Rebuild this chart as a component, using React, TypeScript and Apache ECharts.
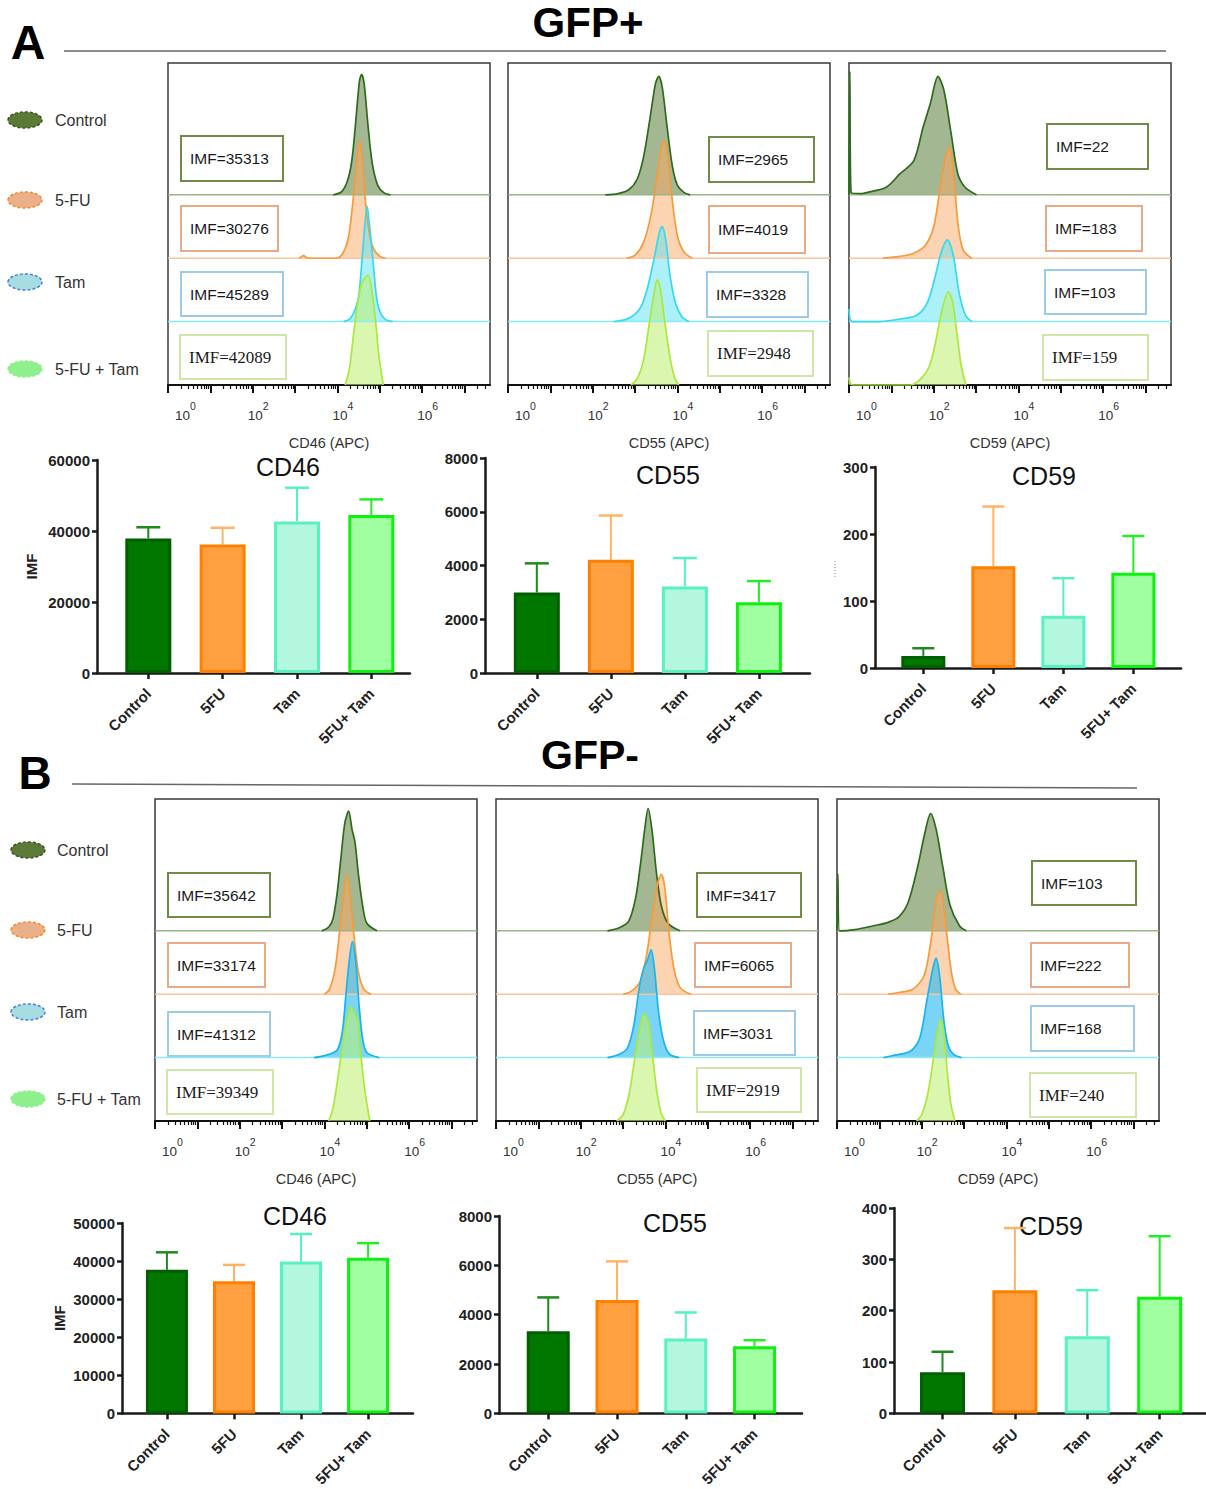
import React, { useEffect, useRef } from "react";
import * as echarts from "echarts";

const FONT = "'Liberation Sans', Arial, sans-serif";
const SERIF = "'Liberation Serif', 'Times New Roman', serif";

// ---------------- data ----------------
const GROUP_NAMES = ["Control", "5-FU", "Tam", "5-FU + Tam"];
const BAR_CATEGORIES = ["Control", "5FU", "Tam", "5FU+ Tam"];
const DECADE_TICKS = [0, 1, 2, 3, 4, 5, 6, 7];
const DECADE_LABELS = [0, 2, 4, 6];
const CHANNEL_NAMES = ["CD46 (APC)", "CD55 (APC)", "CD59 (APC)"];
const MARKER_TITLES = ["CD46", "CD55", "CD59"];

// Histogram curves: [log10 fluorescence, relative count (row units)]
// GFP+ CD46
const A_CD46_CTRL = [[3.9,0],[4.1,0.05],[4.25,0.25],[4.35,0.6],[4.45,1.3],[4.52,1.8],[4.57,1.9],[4.63,1.75],[4.72,1.1],[4.82,0.5],[4.95,0.15],[5.1,0.03],[5.25,0]];
const A_CD46_5FU = [[3.1,0],[3.2,0.04],[3.3,0],[3.95,0],[4.1,0.05],[4.25,0.3],[4.35,0.8],[4.45,1.5],[4.51,1.84],[4.58,1.6],[4.66,0.9],[4.75,0.4],[4.85,0.15],[5.0,0.03],[5.13,0]];
const A_CD46_TAM = [[4.15,0],[4.3,0.05],[4.42,0.2],[4.5,0.4],[4.57,0.9],[4.63,1.4],[4.7,1.82],[4.76,1.5],[4.85,0.88],[4.92,0.4],[5.0,0.16],[5.12,0.04],[5.3,0]];
const A_CD46_COMBO = [[4.18,0],[4.28,0.25],[4.38,0.8],[4.48,1.3],[4.58,1.62],[4.72,1.73],[4.82,1.45],[4.9,1.0],[4.98,0.45],[5.08,0]];
// GFP+ CD55
const A_CD55_CTRL = [[2.3,0],[2.6,0.02],[2.85,0.08],[3.05,0.25],[3.2,0.6],[3.35,1.2],[3.48,1.75],[3.56,1.87],[3.64,1.7],[3.75,1.1],[3.88,0.45],[4.0,0.15],[4.15,0.04],[4.3,0]];
const A_CD55_5FU = [[2.8,0],[3.0,0.05],[3.2,0.25],[3.38,0.7],[3.52,1.3],[3.62,1.75],[3.69,1.86],[3.77,1.6],[3.88,0.9],[4.0,0.35],[4.15,0.1],[4.35,0]];
const A_CD55_TAM = [[2.5,0],[2.8,0.04],[3.0,0.12],[3.15,0.25],[3.3,0.55],[3.45,1.0],[3.57,1.4],[3.64,1.5],[3.72,1.3],[3.83,0.7],[3.95,0.3],[4.1,0.08],[4.27,0]];
const A_CD55_COMBO = [[2.9,0],[3.05,0.1],[3.2,0.4],[3.33,0.95],[3.45,1.45],[3.52,1.66],[3.6,1.5],[3.7,1.0],[3.82,0.45],[3.93,0.12],[4.03,0]];
// GFP+ CD59
const A_CD59_CTRL = [[0,0],[0.02,1.95],[0.05,0.03],[0.3,0.02],[0.44,0.04],[0.88,0.12],[1.2,0.33],[1.53,0.54],[1.75,1.07],[1.92,1.44],[2.1,1.87],[2.24,1.65],[2.41,0.97],[2.57,0.33],[2.74,0.12],[3.01,0]];
const A_CD59_5FU = [[0.8,0],[1.2,0.03],[1.5,0.07],[1.8,0.2],[2.0,0.5],[2.15,1.1],[2.28,1.6],[2.38,1.75],[2.47,1.3],[2.58,0.5],[2.7,0.12],[2.9,0]];
const A_CD59_TAM = [[0,0.2],[0.08,0],[0.7,0],[1.2,0.04],[1.6,0.1],[1.85,0.3],[2.03,0.7],[2.18,1.1],[2.32,1.29],[2.46,1.05],[2.6,0.45],[2.75,0.1],[2.9,0]];
const A_CD59_COMBO = [[0,0.12],[0.08,0],[1.45,0],[1.7,0.1],[1.9,0.3],[2.05,0.7],[2.2,1.2],[2.35,1.47],[2.45,1.3],[2.55,0.8],[2.65,0.3],[2.76,0]];
// GFP- CD46
const B_CD46_CTRL = [[3.94,0],[4.1,0.06],[4.2,0.19],[4.3,0.6],[4.38,1.1],[4.48,1.7],[4.57,1.89],[4.65,1.6],[4.72,1.4],[4.8,0.9],[4.9,0.4],[5.0,0.12],[5.24,0]];
const B_CD46_5FU = [[4.0,0],[4.12,0.08],[4.25,0.4],[4.35,0.95],[4.45,1.55],[4.53,1.87],[4.6,1.6],[4.7,0.9],[4.8,0.35],[4.93,0.08],[5.1,0]];
const B_CD46_TAM = [[3.75,0],[4.05,0.04],[4.3,0.12],[4.42,0.4],[4.5,0.95],[4.58,1.5],[4.66,1.83],[4.74,1.5],[4.82,0.8],[4.9,0.3],[5.0,0.08],[5.29,0]];
const B_CD46_COMBO = [[4.1,0],[4.2,0.2],[4.32,0.7],[4.45,1.3],[4.56,1.7],[4.63,1.8],[4.7,1.72],[4.78,1.6],[4.85,1.1],[4.95,0.5],[5.07,0]];
// GFP- CD55
const B_CD55_CTRL = [[2.63,0],[2.91,0.05],[3.13,0.15],[3.29,0.5],[3.4,1.0],[3.51,1.6],[3.59,1.93],[3.68,1.6],[3.79,0.9],[3.9,0.4],[4.06,0.12],[4.34,0]];
const B_CD55_5FU = [[3.0,0],[3.2,0.05],[3.4,0.2],[3.55,0.6],[3.68,1.2],[3.8,1.7],[3.9,1.89],[3.98,1.7],[4.08,1.0],[4.2,0.4],[4.35,0.1],[4.6,0]];
const B_CD55_TAM = [[2.63,0],[2.9,0.05],[3.1,0.15],[3.25,0.5],[3.38,1.1],[3.48,1.4],[3.58,1.55],[3.66,1.7],[3.74,1.4],[3.84,0.7],[3.96,0.25],[4.1,0.05],[4.32,0]];
const B_CD55_COMBO = [[2.85,0],[3.0,0.1],[3.15,0.45],[3.3,1.1],[3.42,1.55],[3.51,1.69],[3.6,1.55],[3.7,1.0],[3.8,0.45],[3.9,0.12],[4.0,0]];
// GFP- CD59
const B_CD59_CTRL = [[0,0],[0.02,0.9],[0.06,0],[0.42,0.02],[0.86,0.08],[1.19,0.13],[1.46,0.22],[1.68,0.45],[1.9,1.0],[2.06,1.5],[2.21,1.85],[2.34,1.6],[2.5,1.0],[2.67,0.4],[2.89,0.08],[3.05,0]];
const B_CD59_5FU = [[1.2,0],[1.4,0.02],[1.79,0.08],[2.06,0.3],[2.23,0.9],[2.34,1.45],[2.42,1.63],[2.5,1.5],[2.6,0.9],[2.7,0.35],[2.8,0.08],[2.92,0]];
const B_CD59_TAM = [[1.1,0],[1.3,0.03],[1.73,0.1],[1.95,0.3],[2.12,0.9],[2.26,1.4],[2.34,1.57],[2.42,1.3],[2.52,0.6],[2.62,0.2],[2.75,0.05],[2.94,0]];
const B_CD59_COMBO = [[1.88,0],[2.0,0.1],[2.15,0.45],[2.28,1.0],[2.38,1.45],[2.45,1.6],[2.52,1.4],[2.6,0.8],[2.68,0.3],[2.78,0]];

// IMF annotations
const IMF_A_CD46 = ["IMF=35313", "IMF=30276", "IMF=45289", "IMF=42089"];
const IMF_A_CD55 = ["IMF=2965", "IMF=4019", "IMF=3328", "IMF=2948"];
const IMF_A_CD59 = ["IMF=22", "IMF=183", "IMF=103", "IMF=159"];
const IMF_B_CD46 = ["IMF=35642", "IMF=33174", "IMF=41312", "IMF=39349"];
const IMF_B_CD55 = ["IMF=3417", "IMF=6065", "IMF=3031", "IMF=2919"];
const IMF_B_CD59 = ["IMF=103", "IMF=222", "IMF=168", "IMF=240"];

// Bar charts: mean and mean+SD
const A_CD46_MEAN = [37900, 36200, 42700, 44500];
const A_CD46_UPPER = [41050, 40900, 52200, 48900];
const A_CD55_MEAN = [3000, 4210, 3220, 2630];
const A_CD55_UPPER = [4080, 5860, 4280, 3420];
const A_CD59_MEAN = [18, 152, 78, 142];
const A_CD59_UPPER = [29.5, 241, 134, 197];
const B_CD46_MEAN = [37700, 34700, 39900, 40900];
const B_CD46_UPPER = [42300, 39000, 47100, 44700];
const B_CD55_MEAN = [3330, 4600, 3030, 2720];
const B_CD55_UPPER = [4700, 6160, 4090, 2965];
const B_CD59_MEAN = [80, 240, 150, 227];
const B_CD59_UPPER = [120, 361, 240, 345];

const A_CD46_TICKS = [0, 20000, 40000, 60000];
const A_CD55_TICKS = [0, 2000, 4000, 6000, 8000];
const A_CD59_TICKS = [0, 100, 200, 300];
const B_CD46_TICKS = [0, 10000, 20000, 30000, 40000, 50000];
const B_CD55_TICKS = [0, 2000, 4000, 6000, 8000];
const B_CD59_TICKS = [0, 100, 200, 300, 400];

// ---------------- layout & style ----------------
const HIST_W = 322;
const HIST_H = 322;
const X_MAX = 7.6;
const Y_MAX = 5.08;
const ROW_BASES = [3, 2, 1, 0];

const MINOR_TICKS: number[] = [];
for (let d = 0; d < 8; d++) {
  for (let k = 2; k <= 9; k++) {
    const v = d + Math.log10(k);
    if (v < X_MAX) MINOR_TICKS.push(v);
  }
}

const HIST_STYLE = [
  { line: "#2e6a1c", fill: "rgba(74,112,40,0.5)", base: "#98b488" },
  { line: "#f89a3c", fill: "rgba(250,170,100,0.5)", base: "#f9c49a" },
  { line: "#36d8f2", fill: "rgba(90,228,245,0.5)", base: "#86ecf8" },
  { line: "#a9e93e", fill: "rgba(190,240,110,0.55)", base: "#a9e93e" },
];
const TAM_B = { line: "#18b4ee", fill: "rgba(40,185,240,0.62)", base: "#8fe8f8" };
const BOX_COLORS = ["#6f8b45", "#e8ab86", "#9ccbe8", "#cfe6a8"];

const HIST_PANELS = [
  { left: 168, top: 63, channel: 0, curves: [A_CD46_CTRL, A_CD46_5FU, A_CD46_TAM, A_CD46_COMBO], imf: IMF_A_CD46, tam: HIST_STYLE[2],
    boxes: [[181, 136, 102, 45], [181, 206, 97, 45], [181, 272, 102, 44], [180, 335, 106, 44]] },
  { left: 508, top: 63, channel: 1, curves: [A_CD55_CTRL, A_CD55_5FU, A_CD55_TAM, A_CD55_COMBO], imf: IMF_A_CD55, tam: HIST_STYLE[2],
    boxes: [[709, 137, 105, 45], [709, 206, 96, 47], [707, 272, 101, 45], [708, 331, 105, 45]] },
  { left: 849, top: 63, channel: 2, curves: [A_CD59_CTRL, A_CD59_5FU, A_CD59_TAM, A_CD59_COMBO], imf: IMF_A_CD59, tam: HIST_STYLE[2],
    boxes: [[1047, 124, 101, 45], [1046, 206, 96, 45], [1045, 270, 101, 44], [1043, 335, 105, 45]] },
  { left: 155, top: 799, channel: 0, curves: [B_CD46_CTRL, B_CD46_5FU, B_CD46_TAM, B_CD46_COMBO], imf: IMF_B_CD46, tam: TAM_B,
    boxes: [[168, 873, 102, 44], [168, 943, 97, 44], [168, 1012, 102, 44], [167, 1070, 106, 44]] },
  { left: 496, top: 799, channel: 1, curves: [B_CD55_CTRL, B_CD55_5FU, B_CD55_TAM, B_CD55_COMBO], imf: IMF_B_CD55, tam: TAM_B,
    boxes: [[697, 873, 104, 44], [695, 943, 96, 44], [694, 1011, 101, 44], [697, 1068, 104, 44]] },
  { left: 837, top: 799, channel: 2, curves: [B_CD59_CTRL, B_CD59_5FU, B_CD59_TAM, B_CD59_COMBO], imf: IMF_B_CD59, tam: TAM_B,
    boxes: [[1032, 861, 104, 44], [1031, 943, 98, 44], [1031, 1006, 103, 45], [1030, 1073, 106, 44]] },
];

const BAR_FILL = ["#007800", "#ffa040", "#b4f7df", "#a0ffa0"];
const BAR_BORDER = ["#005f00", "#ff8000", "#5af0c0", "#10f010"];
const ERR_COLORS = ["#1f8a1f", "#ffb366", "#55f0c4", "#22ee22"];

const BAR_PANELS = [
  { left: 97, top: 460, width: 313, height: 213, min: -0.69, max: 3.52, ticks: A_CD46_TICKS, mean: A_CD46_MEAN, upper: A_CD46_UPPER, barWidth: 46, cap: 24, title: 0, tx: 288, ty: 467, imf: true, nameGap: 58 },
  { left: 485, top: 458, width: 325, height: 215, min: -0.7, max: 3.69, ticks: A_CD55_TICKS, mean: A_CD55_MEAN, upper: A_CD55_UPPER, barWidth: 46, cap: 24, title: 1, tx: 668, ty: 475, imf: false, nameGap: 58 },
  { left: 875, top: 467, width: 306, height: 201, min: -0.69, max: 3.68, ticks: A_CD59_TICKS, mean: A_CD59_MEAN, upper: A_CD59_UPPER, barWidth: 44, cap: 22, title: 2, tx: 1044, ty: 476, imf: false, nameGap: 58 },
  { left: 122, top: 1223, width: 291, height: 193, min: -0.67, max: 3.67, ticks: B_CD46_TICKS, mean: B_CD46_MEAN, upper: B_CD46_UPPER, barWidth: 42, cap: 22, title: 0, tx: 295, ty: 1216, imf: true, nameGap: 55 },
  { left: 499, top: 1216, width: 303, height: 200, min: -0.716, max: 3.69, ticks: B_CD55_TICKS, mean: B_CD55_MEAN, upper: B_CD55_UPPER, barWidth: 43, cap: 22, title: 1, tx: 675, ty: 1223, imf: false, nameGap: 55 },
  { left: 894, top: 1208, width: 312, height: 211, min: -0.67, max: 3.64, ticks: B_CD59_TICKS, mean: B_CD59_MEAN, upper: B_CD59_UPPER, barWidth: 45, cap: 22, title: 2, tx: 1051, ty: 1226, imf: false, nameGap: 55 },
];

const LEGEND_STYLE = [
  { fill: "#5b7a38", stroke: "#3b5522" },
  { fill: "#e9b08a", stroke: "#f7892c" },
  { fill: "#a5dde2", stroke: "#4a7fd4" },
  { fill: "#8ef08c", stroke: "#8ef08c" },
];
const LEGENDS = [
  { cx: 25, tx: 55, ys: [120, 200, 282, 369] },
  { cx: 28, tx: 57, ys: [850, 930, 1012, 1099] },
];

function buildOption() {
  const grid: any[] = [];
  const xAxis: any[] = [];
  const yAxis: any[] = [];
  const series: any[] = [];
  const graphic: any[] = [];

  // ---- histograms ----
  HIST_PANELS.forEach((p, gi) => {
    grid.push({
      left: p.left, top: p.top, width: HIST_W, height: HIST_H,
      show: true, borderColor: "#3a3a3a", borderWidth: 1.5, backgroundColor: "#fff",
    });
    const xi = xAxis.length;
    xAxis.push({
      type: "value", gridIndex: gi, min: 0, max: X_MAX, position: "bottom",
      name: CHANNEL_NAMES[p.channel], nameLocation: "middle", nameGap: 50,
      nameTextStyle: { fontFamily: FONT, fontSize: 14.5, color: "#333" },
      axisLine: { show: true, onZero: false, lineStyle: { color: "#111", width: 2 } },
      axisTick: { show: true, customValues: DECADE_TICKS, length: 8, lineStyle: { color: "#111", width: 2 } },
      axisLabel: {
        customValues: DECADE_LABELS, margin: 15,
        formatter: (v: number) => (v === 0 ? `{z0| }{b|10}{s|${v}}` : `{z| }{b|10}{s|${v}}`),
        rich: {
          z0: { width: 35, fontSize: 10, lineHeight: 22 },
          z: { width: 11, fontSize: 10, lineHeight: 22 },
          b: { fontFamily: FONT, fontSize: 13.5, color: "#333", lineHeight: 22, verticalAlign: "bottom" },
          s: { fontFamily: FONT, fontSize: 10.5, color: "#333", lineHeight: 22, verticalAlign: "top" },
        },
      },
      splitLine: { show: false },
    });
    xAxis.push({
      type: "value", gridIndex: gi, min: 0, max: X_MAX, position: "bottom",
      axisLine: { show: false },
      axisTick: { show: true, customValues: MINOR_TICKS, length: 4, lineStyle: { color: "#111", width: 1.2 } },
      axisLabel: { show: false }, splitLine: { show: false },
    });
    yAxis.push({ type: "value", gridIndex: gi, min: 0, max: Y_MAX, show: false });

    p.curves.forEach((c, r) => {
      const st = r === 2 ? p.tam : HIST_STYLE[r];
      const base = ROW_BASES[r];
      if (r < 3) {
        series.push({
          type: "line", xAxisIndex: xi, yAxisIndex: gi, silent: true,
          data: [[0, base], [X_MAX, base]], symbol: "none",
          lineStyle: { color: st.base, width: 1.5 },
        });
      }
      series.push({
        type: "line", xAxisIndex: xi, yAxisIndex: gi, silent: true,
        data: c.map(([x, h]) => [x, base + h]), smooth: 0.3, symbol: "none",
        lineStyle: { color: st.line, width: 1.7 },
        areaStyle: { color: st.fill, opacity: 1, origin: base },
      });
    });

    p.boxes.forEach((b, r) => {
      graphic.push({
        type: "rect", shape: { x: b[0], y: b[1], width: b[2], height: b[3] },
        style: { fill: "rgba(255,255,255,0)", stroke: BOX_COLORS[r], lineWidth: 2 },
      });
      graphic.push({
        type: "text", x: b[0] + 9, y: b[1] + b[3] / 2,
        style: {
          text: p.imf[r], fill: "#1a1a1a",
          fontFamily: r === 3 ? SERIF : FONT, fontSize: r === 3 ? 17 : 15.5,
          align: "left", verticalAlign: "middle",
        },
      });
    });
  });

  // ---- bar charts ----
  BAR_PANELS.forEach((b) => {
    const gi = grid.length;
    grid.push({ left: b.left, top: b.top, width: b.width, height: b.height });
    const xi = xAxis.length;
    const yi = yAxis.length;
    const cats = [0, 1, 2, 3];
    xAxis.push({
      type: "value", gridIndex: gi, min: b.min, max: b.max,
      axisLine: { show: true, onZero: false, lineStyle: { color: "#1a1a1a", width: 2.5 } },
      axisTick: { show: true, customValues: cats, length: 6, lineStyle: { color: "#1a1a1a", width: 2.5 } },
      axisLabel: {
        customValues: cats, rotate: 45, margin: 18,
        formatter: (v: number) => BAR_CATEGORIES[Math.round(v)],
        fontFamily: FONT, fontWeight: "bold", fontSize: 15, color: "#222",
      },
      splitLine: { show: false },
    });
    const ticks = b.ticks;
    yAxis.push({
      type: "value", gridIndex: gi, min: ticks[0], max: ticks[ticks.length - 1], interval: ticks[1] - ticks[0],
      name: b.imf ? "IMF" : "", nameLocation: "middle", nameGap: b.nameGap, nameRotate: 90,
      nameTextStyle: { fontFamily: FONT, fontWeight: "bold", fontSize: 15, color: "#222" },
      axisLine: { show: true, onZero: false, lineStyle: { color: "#1a1a1a", width: 2.5 } },
      axisTick: { show: true, length: 5, lineStyle: { color: "#1a1a1a", width: 2.5 } },
      axisLabel: {
        fontFamily: FONT, fontWeight: "bold", fontSize: 15, color: "#222", margin: 7,
        formatter: (v: number) => String(v),
      },
      splitLine: { show: false },
    });
    series.push({
      type: "bar", xAxisIndex: xi, yAxisIndex: yi, barWidth: b.barWidth, silent: true,
      data: b.mean.map((v, i) => ({
        value: [i, v],
        itemStyle: { color: BAR_FILL[i], borderColor: BAR_BORDER[i], borderWidth: 3 },
      })),
    });
    const cap = b.cap;
    series.push({
      type: "custom", xAxisIndex: xi, yAxisIndex: yi, silent: true,
      data: b.mean.map((v, i) => [i, v, b.upper[i]]),
      renderItem: (params: any, api: any) => {
        const i = api.value(0);
        const p0 = api.coord([i, api.value(1)]);
        const p1 = api.coord([i, api.value(2)]);
        const c = ERR_COLORS[params.dataIndex];
        return {
          type: "group",
          children: [
            { type: "line", shape: { x1: p0[0], y1: p0[1], x2: p1[0], y2: p1[1] }, style: { stroke: c, lineWidth: 2 } },
            { type: "line", shape: { x1: p1[0] - cap / 2, y1: p1[1], x2: p1[0] + cap / 2, y2: p1[1] }, style: { stroke: c, lineWidth: 2.5 } },
          ],
        };
      },
    });
    graphic.push({
      type: "text", x: b.tx, y: b.ty,
      style: { text: MARKER_TITLES[b.title], fill: "#111", fontFamily: FONT, fontSize: 25, align: "center", verticalAlign: "middle" },
    });
  });

  // ---- legends ----
  LEGENDS.forEach((lg) => {
    lg.ys.forEach((y, i) => {
      graphic.push({
        type: "ellipse", shape: { cx: lg.cx, cy: y, rx: 17, ry: 8 },
        style: { fill: LEGEND_STYLE[i].fill, stroke: LEGEND_STYLE[i].stroke, lineWidth: 1.5, lineDash: [3, 2] },
      });
      graphic.push({
        type: "text", x: lg.tx, y,
        style: { text: GROUP_NAMES[i], fill: "#333", fontFamily: FONT, fontSize: 16, align: "left", verticalAlign: "middle" },
      });
    });
  });

  // ---- headers ----
  graphic.push({ type: "text", x: 28, y: 42, style: { text: "A", fill: "#000", fontFamily: FONT, fontWeight: "bold", fontSize: 48, align: "center", verticalAlign: "middle" } });
  graphic.push({ type: "line", shape: { x1: 64, y1: 51, x2: 1166, y2: 51 }, style: { stroke: "#666", lineWidth: 1.5 } });
  graphic.push({ type: "text", x: 588, y: 22, style: { text: "GFP+", fill: "#000", fontFamily: FONT, fontWeight: "bold", fontSize: 42, align: "center", verticalAlign: "middle" } });
  graphic.push({ type: "text", x: 35, y: 773, style: { text: "B", fill: "#000", fontFamily: FONT, fontWeight: "bold", fontSize: 46, align: "center", verticalAlign: "middle" } });
  graphic.push({ type: "line", shape: { x1: 72, y1: 784, x2: 1137, y2: 788 }, style: { stroke: "#666", lineWidth: 1.5 } });
  graphic.push({ type: "text", x: 590, y: 755, style: { text: "GFP-", fill: "#000", fontFamily: FONT, fontWeight: "bold", fontSize: 41, align: "center", verticalAlign: "middle" } });
  graphic.push({ type: "line", shape: { x1: 835, y1: 561, x2: 835, y2: 578 }, style: { stroke: "#888", lineWidth: 1, lineDash: [1, 2] } });

  return {
    animation: false,
    backgroundColor: "#fff",
    grid, xAxis, yAxis, series,
    graphic: { elements: graphic },
  };
}

export default function App() {
  const ref = useRef<HTMLDivElement>(null);
  useEffect(() => {
    if (!ref.current) return;
    const chart = echarts.init(ref.current, null, { renderer: "svg" });
    chart.setOption(buildOption() as any);
    return () => chart.dispose();
  }, []);
  return (
    <div
      ref={ref}
      style={{ position: "absolute", left: 0, top: 0, width: 1206, height: 1489, background: "#fff" }}
    />
  );
}
